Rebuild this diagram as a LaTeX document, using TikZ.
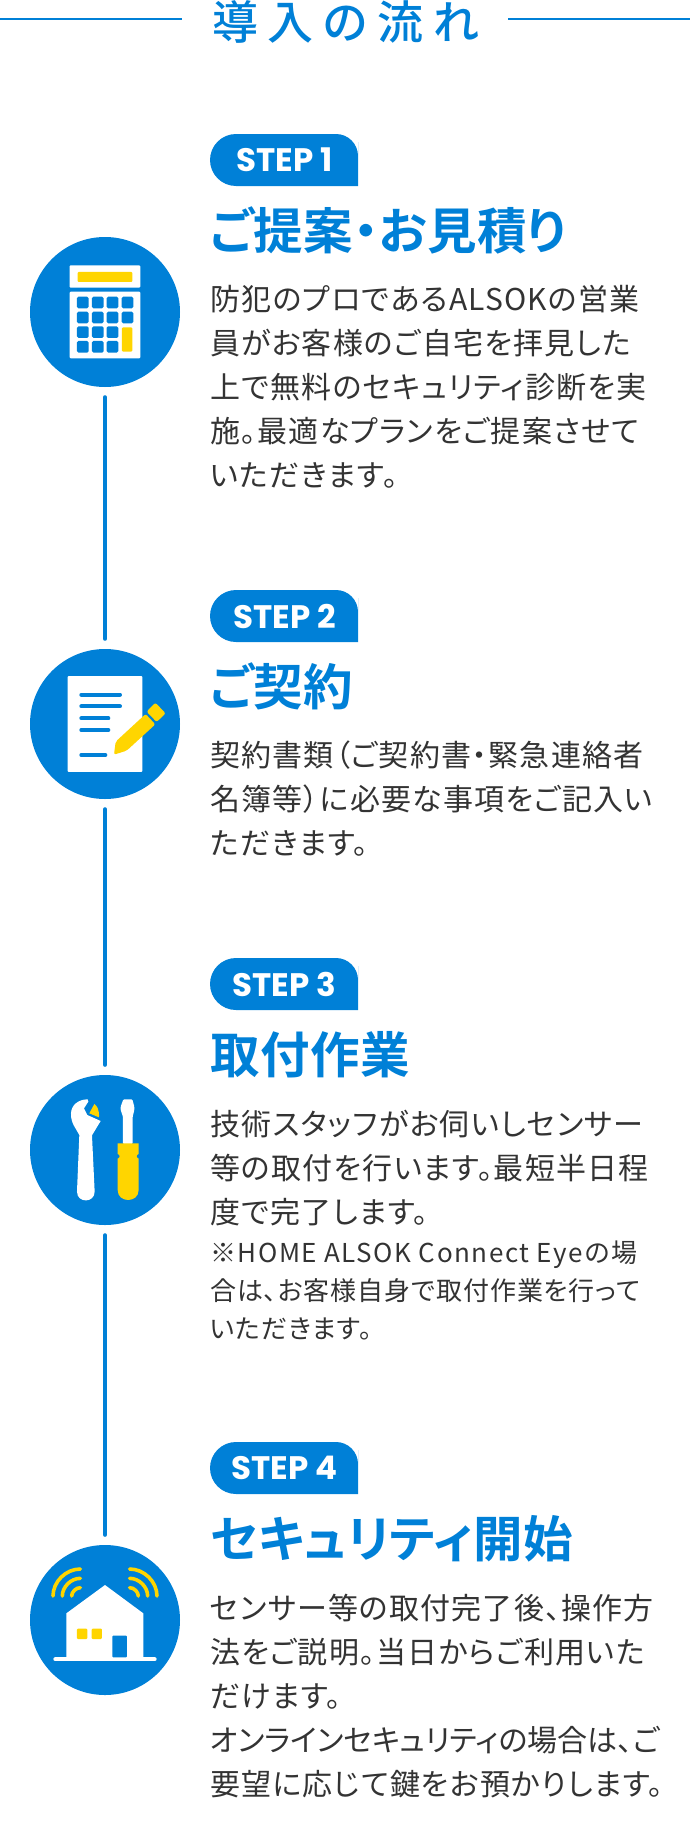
\documentclass[tikz,border=0pt]{standalone}
\usepackage{fontspec}
\setmainfont[RawFeature=+palt,LetterSpace=4]{Noto Sans CJK JP}
\newfontfamily\tightfont[RawFeature=+palt,LetterSpace=0]{Noto Sans CJK JP}
\newfontfamily\smallfont[RawFeature=+palt,LetterSpace=3.5]{Noto Sans CJK JP}
\newfontfamily\widefont[RawFeature=+palt,LetterSpace=6]{Noto Sans CJK JP}
\newfontfamily\headfont[RawFeature=+palt]{Noto Sans CJK JP Medium}
\newfontfamily\titlefont[RawFeature=+palt,LetterSpace=1]{Noto Sans CJK JP Bold}
\newfontfamily\stepfont{Poppins}
\definecolor{mainblue}{RGB}{0,128,215}
\definecolor{mainyellow}{RGB}{255,213,0}
\definecolor{bodygray}{RGB}{51,51,51}
\tikzset{
  stepcircle/.style={circle,fill=mainblue,minimum size=150pt,inner sep=0pt},
  flowline/.style={draw=mainblue,line width=4pt,line cap=round,shorten <=10pt,shorten >=10pt},
  steplabel/.style={text=white,inner sep=0pt,font={\stepfont\bfseries\fontsize{32.5}{32.5}\selectfont}},
  steptitle/.style={anchor=west,text=mainblue,inner sep=0pt,font={\titlefont\fontsize{49.5}{49.5}\selectfont}},
  bodytext/.style={anchor=north west,align=left,text=bodygray,inner sep=0pt,font={\fontsize{30}{44}\selectfont}},
  notetext/.style={anchor=north west,align=left,text=bodygray,inner sep=0pt,font={\smallfont\fontsize{26}{38}\selectfont}},
}
\begin{document}
\begin{tikzpicture}[x=1pt,y=-1pt]
\useasboundingbox (0,0) rectangle (690,1828);
\draw[mainblue,line width=2.5pt] (0,19) -- (182,19);
\draw[mainblue,line width=2.5pt] (508,19) -- (690,19);
\node[text=mainblue,inner sep=0pt] (maintitle) at (345.5,22) {\headfont\fontsize{46}{46}\selectfont 導\hspace{9.5pt}入\hspace{9.5pt}の\hspace{9.5pt}流\hspace{9.5pt}れ};
% circles and connectors
\node[stepcircle] (circ1) at (105,312) {};
\node[stepcircle] (circ2) at (105,724) {};
\node[stepcircle] (circ3) at (105,1150) {};
\node[stepcircle] (circ4) at (105,1620) {};
\draw[flowline] (circ1) -- (circ2);
\draw[flowline] (circ2) -- (circ3);
\draw[flowline] (circ3) -- (circ4);
% step tags
\foreach \n/\y in {1/134,2/590,3/958,4/1442} {
\fill[mainblue,rounded corners=22pt] (300,\y) -- (358,\y) -- (358,\y+30) [sharp corners] -- (358,\y+52) -- (240,\y+52) [rounded corners=26pt] -- (210,\y+52) -- (210,\y) -- cycle;
\node[steplabel] (tag\n) at (284.5,\y+26) {STEP \n};
}
% calculator
\begin{scope}[shift={(0,220)},x=0.3333pt,y=-0.3333pt]
\fill[white,rounded corners=1pt] (209,136) rectangle (421,203);
\fill[mainyellow,rounded corners=1pt] (233,156) rectangle (397,186);
\fill[white,rounded corners=1pt] (209,215) rectangle (421,415);
\foreach \x in {231,276,320,365} {
\foreach \y in {230,275} {
\fill[mainblue,rounded corners=1.5pt] (\x,\y) rectangle (\x+35,\y+35);
}
}
\foreach \x in {231,276,320} {
\foreach \y in {319,363} {
\fill[mainblue,rounded corners=1.5pt] (\x,\y) rectangle (\x+35,\y+35);
}
}
\fill[mainyellow,rounded corners=1pt] (366,322) rectangle (397,395);
\end{scope}
% document and pencil
\begin{scope}[shift={(0,630)},x=0.3333pt,y=-0.3333pt]
\fill[white,rounded corners=1pt] (203,138) rectangle (427,426);
\draw[mainblue,line width=4pt,line cap=round] (244,194) -- (360,194);
\draw[mainblue,line width=4pt,line cap=round] (244,229) -- (360,229);
\draw[mainblue,line width=4pt,line cap=round] (244,265) -- (325,265);
\draw[mainblue,line width=4pt,line cap=round] (244,300) -- (325,300);
\draw[mainblue,line width=4pt,line cap=round] (244,375) -- (316,375);
\fill[mainyellow,rounded corners=2pt] (347,335) -- (437,252) -- (466,283) -- (380,362) -- (342,374) -- cycle;
\fill[mainyellow,rounded corners=2pt] (466,218) -- (497,250) -- (470,276) -- (440,245) -- cycle;
\end{scope}
% wrench and screwdriver
\begin{scope}[shift={(0,1060)},x=0.3333pt,y=-0.3333pt]
\fill[white] (238,225) .. controls (228,205) and (212,190) .. (213,160) .. controls (214,135) and (235,118) .. (263,118) -- (265,125) -- (252,145) -- (262,165) -- (302,183) -- (276,226) -- (284,395) .. controls (284,430) and (231,430) .. (231,395) -- cycle;
\fill[mainyellow] (268,160) -- (283,132) .. controls (292,138) and (298,150) .. (297,172) -- cycle;
\fill[white,rounded corners=1pt] (370,118) -- (397,118) -- (403,140) -- (403,150) -- (398,170) -- (398,252) -- (369,252) -- (369,170) -- (362,150) -- (362,140) -- cycle;
\fill[mainyellow] (353,250) -- (416,250) -- (416,282) .. controls (408,284) and (408,293) .. (416,296) -- (416,390) .. controls (416,430) and (353,430) .. (353,390) -- (353,296) .. controls (361,293) and (361,284) .. (353,282) -- cycle;
\end{scope}
% house
\begin{scope}[shift={(0,1530)},x=0.3333pt,y=-0.3333pt]
\fill[white] (315,165) -- (430,250) -- (430,385) -- (199,385) -- (199,250) -- cycle;
\draw[white,line width=4pt,line cap=round] (166,388) -- (464,388);
\fill[mainblue,rounded corners=1pt] (337,382) -- (337,317) -- (381,317) -- (381,382) -- cycle;
\fill[mainyellow,rounded corners=1pt] (231,296) rectangle (262,327);
\fill[mainyellow,rounded corners=1pt] (275,296) rectangle (306,327);
\foreach \r in {29,57,85} {
\draw[mainyellow,line width=3.6pt,line cap=round] (244-\r,198) .. controls (244-\r,202-0.55*\r) and (244-0.55*\r,202-\r) .. (241,202-\r);
\draw[mainyellow,line width=3.6pt,line cap=round] (386+\r,198) .. controls (386+\r,202-0.55*\r) and (386+0.55*\r,202-\r) .. (389,202-\r);
}
\end{scope}
% step 1
\node[steptitle] (title1) at (210,230) {ご提案・お見積り};
\node[bodytext] (body1) at (210,285) {防犯のプロであるALSOKの営業\\員がお客様のご自宅を拝見した\\上で無料のセキュリティ診断を実\\施。最適なプランをご提案させて\\いただきます。};
% step 2
\node[steptitle] (title2) at (210,686) {ご契約};
\node[bodytext] (body2) at (210,741) {契約書類（ご契約書・緊急連絡者\\名簿等）に必要な事項をご記入い\\ただきます。};
% step 3
\node[steptitle] (title3) at (210,1055) {取付作業};
\node[bodytext] (body3) at (210,1110) {技術スタッフがお伺いしセンサー\\等の取付を行います。最短半日程\\度で完了します。};
\node[notetext] (note3) at (210,1241) {{\widefont ※HOME ALSOK Connect Eyeの場}\\合は、お客様自身で取付作業を行って\\いただきます。};
% step 4
\node[steptitle] (title4) at (210,1539) {セキュリティ開始};
\node[bodytext] (body4) at (210,1594) {センサー等の取付完了後、操作方\\法をご説明。当日からご利用いた\\だけます。\\{\tightfont オンラインセキュリティの場合は、ご}\\要望に応じて鍵をお預かりします。};
\end{tikzpicture}
\end{document}
